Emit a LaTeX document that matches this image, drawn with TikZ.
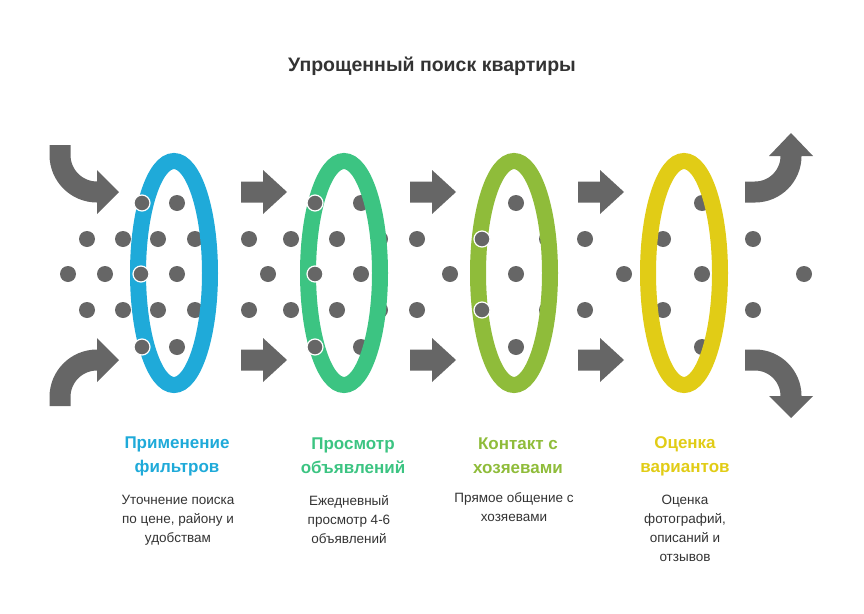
\documentclass[tikz,border=0pt]{standalone}
\usepackage{fontspec}
\setmainfont{Liberation Sans}
\definecolor{cA}{HTML}{1FAAD9}
\definecolor{cB}{HTML}{3CC482}
\definecolor{cC}{HTML}{8FBC3A}
\definecolor{cD}{HTML}{E1CC16}
\definecolor{gr}{HTML}{666666}
\definecolor{tx}{HTML}{333333}
\begin{document}
\begin{tikzpicture}[x=1pt,y=-1pt,
  dot/.style={fill=gr},
  odot/.style={fill=gr,draw=white,line width=1.2pt},
  ring/.style={line width=16pt},
  arr/.style={fill=gr},
  band/.style={draw=gr,line width=21pt},
  head/.style={font=\bfseries\fontsize{17}{24}\selectfont,align=center},
  body/.style={font=\fontsize{13.5}{19}\selectfont,align=center,text=tx}]
\useasboundingbox (0,0) rectangle (864,613);
\node[font=\bfseries\fontsize{19.5}{23}\selectfont,text=tx] (title) at (432,66) {Упрощенный поиск квартиры};
% dots
\foreach \x in {142,177,315,361,516,702}{\fill[dot] (\x,203) circle (8); \fill[dot] (\x,347) circle (8);}
\foreach \x in {87,123,158,195,249,291,337,380,417,482,547,585,663,753}{\fill[dot] (\x,239) circle (8); \fill[dot] (\x,310) circle (8);}
\foreach \x in {68,105,141,177,210,268,315,361,450,516,624,702,804}{\fill[dot] (\x,274) circle (8);}
% rings
\draw[ring,cA] (174,273) ellipse (36 and 112);
\draw[ring,cB] (344,273) ellipse (36 and 112);
\draw[ring,cC] (514,273) ellipse (36 and 112);
\draw[ring,cD] (684,273) ellipse (36 and 112);
\foreach \p in {(142,203),(141,274),(142,347),(315,203),(315,274),(315,347),(482,239),(482,310)}{\draw[odot] \p circle (8);}
% straight arrows
\foreach \x in {241,410,578}{
  \foreach \y in {192,360}{
    \fill[arr] (\x,\y-10.5) -- (\x+22,\y-10.5) -- (\x+22,\y-22) -- (\x+46,\y) -- (\x+22,\y+22) -- (\x+22,\y+10.5) -- (\x,\y+10.5) -- cycle;}}
% curved arrows
\coordinate (la1) at (60,145);
\coordinate (la2) at (60,406);
\draw[band] (la1) -- (60,155) arc (180:90:37) -- (98,192);
\fill[arr] (97,170) -- (119,192) -- (97,214) -- cycle;
\draw[band] (la2) -- (60,397) arc (180:270:37) -- (98,360);
\fill[arr] (97,338) -- (119,360) -- (97,382) -- cycle;
\coordinate (ra1) at (745,192);
\coordinate (ra2) at (745,360);
\draw[band] (ra1) -- (755,192) arc (90:0:36) -- (791,155);
\fill[arr] (769,156) -- (813,156) -- (791,133) -- cycle;
\draw[band] (ra2) -- (755,360) arc (-90:0:36) -- (791,397);
\fill[arr] (769,396) -- (813,396) -- (791,418) -- cycle;
% texts
\node[head,text=cA] (h1) at (177,456) {Применение\\фильтров};
\node[head,text=cB] (h2) at (353,456) {Просмотр\\объявлений};
\node[head,text=cC] (h3) at (518,456) {Контакт с\\хозяевами};
\node[head,text=cD] (h4) at (685,456) {Оценка\\вариантов};
\node[body,anchor=north] (b1) at (178,492) {Уточнение поиска\\по цене, району и\\удобствам};
\node[body,anchor=north] (b2) at (349,492) {Ежедневный\\просмотр 4-6\\объявлений};
\node[body,anchor=north] (b3) at (514,489) {Прямое общение с\\хозяевами};
\node[body,anchor=north] (b4) at (685,492) {Оценка\\фотографий,\\описаний и\\отзывов};
\end{tikzpicture}
\end{document}
